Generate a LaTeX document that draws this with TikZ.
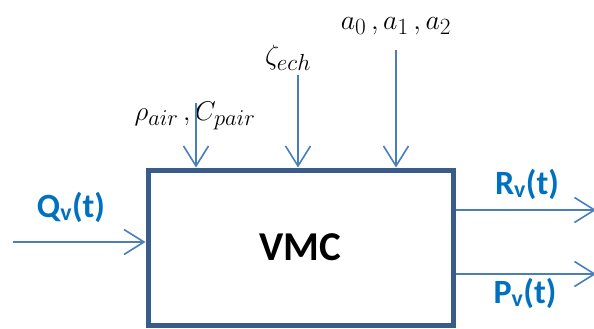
\documentclass[tikz,border=0pt]{standalone}
\usepackage{amsmath}
\usepackage{fontspec}
\setmainfont{Carlito}
\usetikzlibrary{arrows.meta,positioning}

\definecolor{boxblue}{HTML}{385D8A}
\definecolor{lineblue}{HTML}{4A7EBB}
\definecolor{textblue}{HTML}{0070C0}

\tikzset{
  flow/.style={lineblue,line width=1.6pt,-{Straight Barb[length=20pt,width=25pt,line width=1.6pt]}},
  siglabel/.style={text=textblue,font=\fontsize{34}{36}\selectfont\bfseries,inner sep=0pt},
  parlabel/.style={inner sep=0pt,font=\fontsize{24.88}{27}\selectfont},
}

\begin{document}
\begin{tikzpicture}[x=1pt,y=-1pt]
  \useasboundingbox (0,0) rectangle (594,329);
  % the block
  \node[draw=boxblue,line width=5pt,minimum width=305pt,minimum height=155pt,
        font=\fontsize{41}{43}\selectfont\bfseries] (vmc) at (300.5,247.5) {VMC};
  % free ends
  \coordinate (qin) at (13,242);
  \coordinate (rout) at (596,210);
  \coordinate (pout) at (596,274);
  \coordinate (rhoin) at (196,103);
  \coordinate (zetain) at (298,75);
  \coordinate (ain) at (396,50);
  % parameters on top
  \node[parlabel,scale=1.09] (rho) at (195,116) {$\rho_{air}\,,C_{pair}$};
  \node[parlabel,scale=1.12] (zeta) at (288,58) {$\zeta_{ech}$};
  \node[parlabel,scale=1.12] (acoef) at (396,26) {$a_0\,,a_1\,,a_2$};
  \draw[flow] (rhoin) -- (rhoin |- vmc.north);
  \draw[flow] (zetain) -- (zetain |- vmc.north);
  \draw[flow] (ain) -- (ain |- vmc.north);
  % input and outputs
  \node[siglabel] (qv) at (71,207) {Q\textsubscript{v}(t)};
  \node[siglabel] (rv) at (527,184) {R\textsubscript{v}(t)};
  \node[siglabel] (pv) at (525,293) {P\textsubscript{v}(t)};
  \draw[flow] (qin) -- (qin -| vmc.west);
  \draw[flow] (rout -| vmc.east) -- (rout);
  \draw[flow] (pout -| vmc.east) -- (pout);
\end{tikzpicture}
\end{document}
